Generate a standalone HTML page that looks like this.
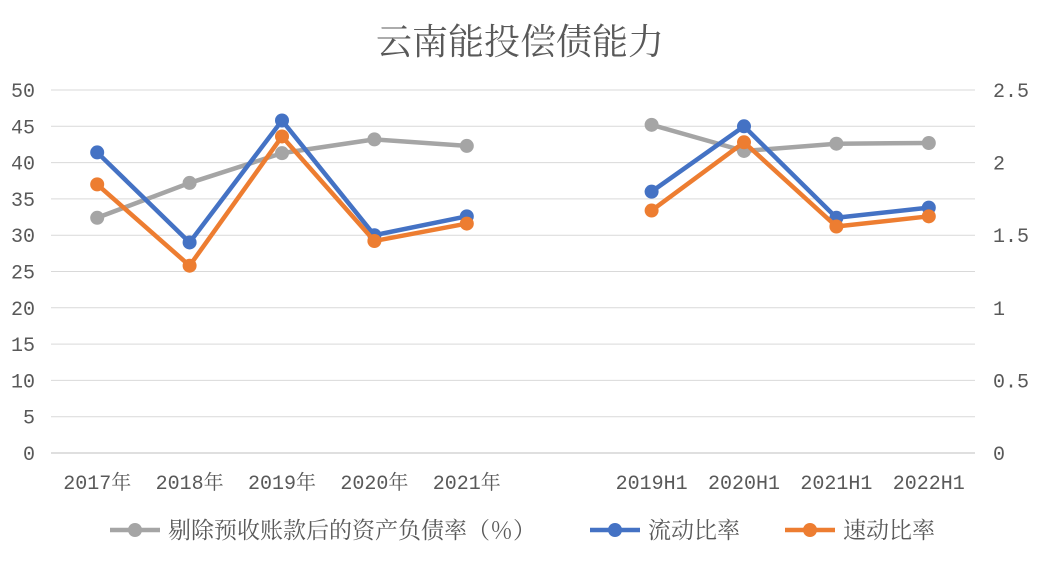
<!DOCTYPE html>
<html><head><meta charset="utf-8"><style>
body{margin:0;background:#fff;width:1043px;height:562px;overflow:hidden}
text{font-family:"Liberation Mono","Noto Serif CJK SC",monospace;fill:#595959}
</style></head><body>
<svg id="chart" width="1043" height="562" xmlns="http://www.w3.org/2000/svg">
<text x="520" y="54" text-anchor="middle" font-size="36" style="font-family:'Noto Serif CJK SC',serif">云南能投偿债能力</text>
<g id="grid"></g><g id="axes"></g><g id="series"></g><g id="legend"></g>
</svg>
<script>
const categories=["2017年","2018年","2019年","2020年","2021年","","2019H1","2020H1","2021H1","2022H1"];
const debtRatio=[32.4,37.2,41.3,43.2,42.3,null,45.2,41.6,42.6,42.7];
const currentRatio=[2.07,1.45,2.29,1.50,1.63,null,1.80,2.25,1.62,1.69];
const quickRatio=[1.85,1.29,2.18,1.46,1.58,null,1.67,2.14,1.56,1.63];
const leftTicks=[0,5,10,15,20,25,30,35,40,45,50];
const rightTicks=["0","0.5","1","1.5","2","2.5"];
const NS="http://www.w3.org/2000/svg";
const x0=51,x1=975,yB=453,yT=90;
const step=(x1-x0)/categories.length;
const xs=i=>x0+step*(i+0.5);
const yl=v=>yB-(v/50)*(yB-yT);
const yr=v=>yB-(v/2.5)*(yB-yT);
function el(tag,attrs,parent){const e=document.createElementNS(NS,tag);for(const k in attrs)e.setAttribute(k,attrs[k]);parent.appendChild(e);return e;}
const grid=document.getElementById('grid'),axes=document.getElementById('axes'),ser=document.getElementById('series'),leg=document.getElementById('legend');
leftTicks.forEach(t=>{
  const l=el('line',{x1:x0,x2:x1,y1:yl(t),y2:yl(t),stroke:t===0?'#bfbfbf':'#d9d9d9','stroke-width':1},grid);
  
  
  const tx=el('text',{x:35,y:yl(t)+7,'text-anchor':'end','font-size':20},axes);tx.textContent=t;
  
  
});
rightTicks.forEach(t=>{
  const tx=el('text',{x:993,y:yr(+t)+7,'font-size':20},axes);tx.textContent=t;
  
  
});
categories.forEach((c,i)=>{
  const tx=el('text',{x:xs(i),y:489,'text-anchor':'middle','font-size':20},axes);tx.textContent=c;
  
  
});
function drawSeries(vals,yf,color,name){
  const g=el('g',{},ser);
  
  
  let segs=[],cur=[];
  vals.forEach((v,i)=>{if(v==null){if(cur.length)segs.push(cur);cur=[];}else cur.push([xs(i),yf(v)]);});
  if(cur.length)segs.push(cur);
  segs.forEach(s=>{const p=el('polyline',{points:s.map(q=>q.join(',')).join(' '),fill:'none',stroke:color,'stroke-width':4.5,'stroke-linejoin':'round'},g);
    
    });
  vals.forEach((v,i)=>{if(v==null)return;const c=el('circle',{cx:xs(i),cy:yf(v),r:7,fill:color},g);
    
    });
}
drawSeries(debtRatio,yl,'#a5a5a5','debt-ratio-series');
drawSeries(currentRatio,yr,'#4472c4','current-ratio-series');
drawSeries(quickRatio,yr,'#ed7d31','quick-ratio-series');
[[110,'#a5a5a5','剔除预收账款后的资产负债率（％）','legend-debt-ratio'],[590,'#4472c4','流动比率','legend-current-ratio'],[785,'#ed7d31','速动比率','legend-quick-ratio']].forEach(([x,c,t,n])=>{
  const g=el('g',{},leg);
  
  
  el('line',{x1:x,x2:x+50,y1:530,y2:530,stroke:c,'stroke-width':4.5},g);
  el('circle',{cx:x+25,cy:530,r:7,fill:c},g);
  const tx=el('text',{x:x+58,y:538,'font-size':23,style:"font-family:'Noto Serif CJK SC',serif"},g);tx.textContent=t;
});
</script>
</body></html>
